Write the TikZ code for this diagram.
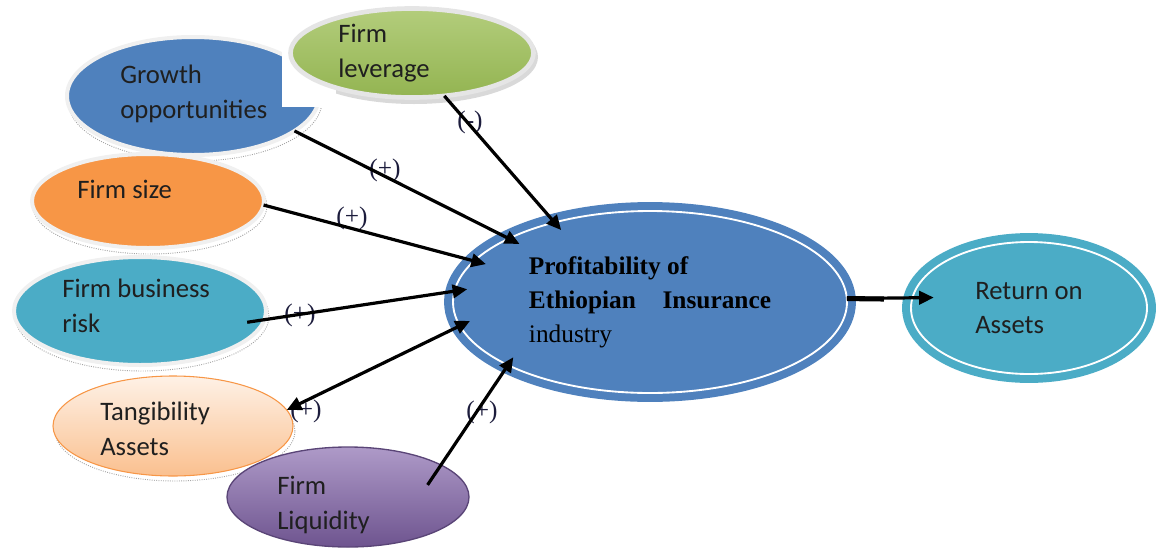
\documentclass[tikz,border=0pt]{standalone}
\usepackage{fontspec}
\setmainfont{Liberation Serif}
\newfontfamily\calib{Carlito}
\usetikzlibrary{arrows.meta,shapes.geometric}
\definecolor{blueC}{HTML}{4F81BD}
\definecolor{greenTop}{HTML}{B3CD7C}
\definecolor{greenBot}{HTML}{93B451}
\definecolor{orangeC}{HTML}{F79646}
\definecolor{tealC}{HTML}{4BACC6}
\definecolor{peachTop}{HTML}{FEF1E6}
\definecolor{peachBot}{HTML}{FAC08F}
\definecolor{lilacTop}{HTML}{AE9AC8}
\definecolor{lilacBot}{HTML}{6E548F}
\definecolor{lilacEdge}{HTML}{5A4577}
\definecolor{signInk}{HTML}{1C1C3C}
\begin{document}
\begin{tikzpicture}[x=0.75pt,y=-0.75pt,
  >={Triangle[length=11pt,width=10pt]},
  esize/.style 2 args={minimum width=#1*0.75pt,minimum height=#2*0.75pt},
  bubble/.style={ellipse,inner sep=0pt,outer sep=0pt},
  glow/.style={bubble,draw=gray!12,line width=3pt},
  dropline/.style={bubble,draw=gray!70,densely dotted,line width=0.7pt},
  ring/.style={bubble,draw=#1,fill=#1,double=white,double distance=1.4pt,line width=6pt},
  sans/.style={font=\calib\fontsize{20}{26}\selectfont,align=left,inner sep=0pt,text=black!88},
  sign/.style={font=\fontsize{19}{19}\selectfont,text=signInk,inner sep=0pt},
  link/.style={line width=2.4pt,->},
]
\useasboundingbox (0,0) rectangle (1156,550);

% soft drop outlines under the outer factors
\node[dropline,esize={254}{120}] (groShadow) at (195,101) {};
\node[bubble,fill=gray!30,esize={248}{94}] (levShadow) at (414,57) {};
\node[dropline,esize={234}{96}] (sizeShadow) at (150,206) {};
\node[dropline,esize={254}{110}] (riskShadow) at (142,316) {};
\node[dropline,esize={240}{100}] (tangShadow) at (175,431) {};

% outer factors
\node[glow,fill=blueC,esize={252}{118}] (gro) at (193,96) {};
\fill[white] (282,24) rectangle (336,107);
\node[bubble,draw=gray!20,line width=3.5pt,top color=greenTop,bottom color=greenBot,esize={243}{89}] (lev) at (412,53) {};
\node[glow,fill=orangeC,esize={232}{94}] (size) at (148,201) {};
\node[glow,fill=tealC,esize={252}{108}] (risk) at (140,311) {};
\node[bubble,draw=orangeC,line width=0.8pt,top color=peachTop,bottom color=peachBot,esize={240}{100}] (tang) at (173,426) {};
\node[bubble,draw=lilacEdge,line width=1pt,top color=lilacTop,bottom color=lilacBot,esize={242}{100}] (liq) at (348,497) {};

% factor names
\node[sans,anchor=west] (groText) at (120,94) {Growth\\opportunities};
\node[sans,anchor=west] (levText) at (338,53) {Firm\\leverage};
\node[sans,anchor=west] (sizeText) at (77,189) {Firm size};
\node[sans,anchor=west] (riskText) at (62,306) {Firm business\\risk};
\node[sans,anchor=west] (tangText) at (100,429) {Tangibility\\Assets};
\node[sans,anchor=west] (liqText) at (277,505) {Firm\\Liquidity};

% central construct and outcome
\node[ring=blueC,esize={394}{182}] (prof) at (650,302) {};
\node[bubble,esize={370}{164},align=left,font=\fontsize{19}{25.5}\selectfont] (profCore) at (650,302)
  {\textbf{Profitability of}\\\textbf{Ethiopian\hspace{20pt}Insurance}\\industry};
\node[ring=tealC,esize={236}{132},align=left,font=\calib\fontsize{20}{26}\selectfont,text=black!88] (ret) at (1029,308)
  {Return on\\Assets};

% expected signs
\node[sign] (sGro) at (385,170) {(+)};
\node[sign] (sLev) at (470,122) {(-)};
\node[sign] (sSize) at (352,218) {(+)};
\node[sign] (sRisk) at (300,315) {(+)};
\node[sign] (sTang) at (306,411) {(+)};
\node[sign] (sLiq) at (482,412) {(+)};

% relationships
\draw[link] (lev.-53) -- (profCore.141);
\draw[link] (gro.-19) -- (profCore.156);
\draw[link] (size.-2) -- (profCore.167);
\draw[link,shorten <=-13pt] (risk.-4) -- (profCore.176);
\draw[link,<->] (tang.8.5) -- (profCore.186);
\draw[link,shorten <=-18pt] (liq.19) -- (profCore.202);
\coordinate (stubEnd) at (884,299);
\draw[line width=3.8pt] (prof.1) -- (stubEnd);
\draw[link,shorten >=-16pt] (prof.1) -- (ret.175);
\end{tikzpicture}
\end{document}
